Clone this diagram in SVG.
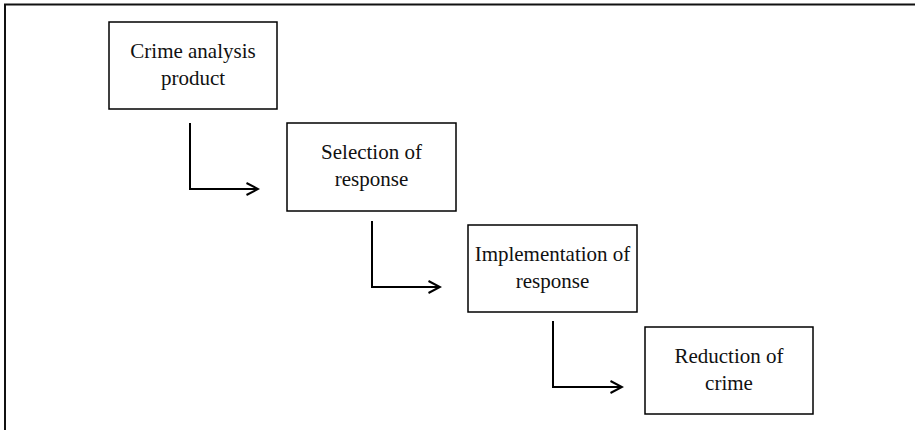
<svg xmlns="http://www.w3.org/2000/svg" width="915" height="430" viewBox="0 0 915 430">
  <style>
    .box { fill: #fff; stroke: #000; stroke-width: 1.5; }
    .lbl { font-family: "Liberation Serif", "Times New Roman", serif; font-size: 21px; fill: #111; text-anchor: middle; }
    .conn { fill: none; stroke: #000; stroke-width: 2; }
  </style>
  <defs>
    <marker id="arr" markerWidth="14" markerHeight="14" refX="12" refY="7" orient="auto" markerUnits="userSpaceOnUse">
      <path d="M0.5 1 L12 7 L0.5 13" fill="none" stroke="#000" stroke-width="2"/>
    </marker>
  </defs>
  <rect width="915" height="430" fill="#fff"/>
  <path d="M5 430 V4.5 H915" fill="none" stroke="#111" stroke-width="2"/>
  <g id="n1">
    <rect class="box" x="109" y="22" width="168" height="87"/>
    <text class="lbl" x="193" y="58">Crime analysis</text>
    <text class="lbl" x="193" y="84.5">product</text>
  </g>
  <g id="n2">
    <rect class="box" x="287" y="123" width="169" height="88"/>
    <text class="lbl" x="371.5" y="159">Selection of</text>
    <text class="lbl" x="371.5" y="186">response</text>
  </g>
  <g id="n3">
    <rect class="box" x="468" y="225" width="169" height="87"/>
    <text class="lbl" x="552.5" y="261">Implementation of</text>
    <text class="lbl" x="552.5" y="287.5">response</text>
  </g>
  <g id="n4">
    <rect class="box" x="645" y="327" width="168" height="87"/>
    <text class="lbl" x="729" y="363">Reduction of</text>
    <text class="lbl" x="729" y="390">crime</text>
  </g>
  <g id="connectors">
    <path class="conn" d="M190 123 V189 H258" marker-end="url(#arr)"/>
    <path class="conn" d="M372 221 V287 H440" marker-end="url(#arr)"/>
    <path class="conn" d="M553 321 V387 H622" marker-end="url(#arr)"/>
  </g>
</svg>
